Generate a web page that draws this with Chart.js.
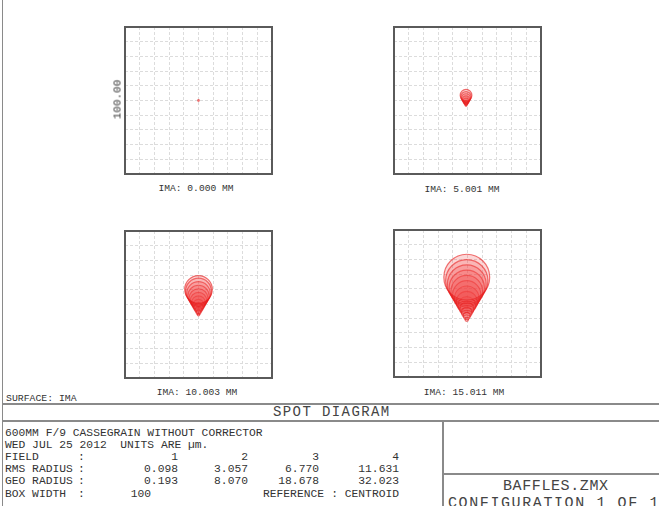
<!DOCTYPE html>
<html>
<head>
<meta charset="utf-8">
<script src="https://cdn.jsdelivr.net/npm/chart.js@4/dist/chart.umd.min.js"></script>
<style>
  body { margin: 0; background: #fff; }
  #page { position: relative; width: 659px; height: 506px; overflow: hidden; background: #fff;
          font-family: "Liberation Mono", "DejaVu Sans Mono", monospace; color: #333; }
  .box { position: absolute; width: 151px; height: 151px; }
  .t { position: absolute; white-space: pre; line-height: 13px; }
  .hl { position: absolute; height: 2px; background: #8a8a8a; }
  .vl { position: absolute; width: 2px; background: #8a8a8a; }
</style>
</head>
<body>
<div id="page">
  <div class="vl" style="left:2px;top:0;height:506px;width:1px;"></div>

  <div class="box" style="left:123px;top:25px;"><canvas id="c1"></canvas></div>
  <div class="box" style="left:392px;top:25px;"><canvas id="c2"></canvas></div>
  <div class="box" style="left:123px;top:229px;"><canvas id="c3"></canvas></div>
  <div class="box" style="left:392px;top:228px;"><canvas id="c4"></canvas></div>

  <div class="t" id="ylab" style="left:96px;top:93px;font-size:11px;transform:rotate(-90deg);width:44px;text-align:center;"></div>
  <div class="t lab" id="l1" style="left:116px;top:182px;width:160px;text-align:center;font-size:9.6px;"></div>
  <div class="t lab" id="l2" style="left:382px;top:183px;width:160px;text-align:center;font-size:9.6px;"></div>
  <div class="t lab" id="l3" style="left:117px;top:386px;width:160px;text-align:center;font-size:9.6px;"></div>
  <div class="t lab" id="l4" style="left:384px;top:386px;width:160px;text-align:center;font-size:9.6px;"></div>

  <div class="t" id="surf" style="left:6px;top:392px;font-size:9.8px;"></div>
  <div class="hl" style="left:3px;top:403px;width:656px;"></div>
  <div class="t" id="title" style="left:273px;top:406px;font-size:14px;letter-spacing:1.4px;color:#444;"></div>
  <div class="hl" style="left:3px;top:420px;width:656px;"></div>
  <div class="vl" style="left:442px;top:421px;height:85px;"></div>
  <div class="hl" style="left:443px;top:473px;width:216px;"></div>
  <div class="t" id="file" style="left:503px;top:480px;font-size:15px;letter-spacing:0.6px;color:#444;"></div>
  <div class="t" id="conf" style="left:448px;top:497px;font-size:15px;letter-spacing:1.6px;color:#444;"></div>

  <div id="table"></div>
</div>

<script>
// field labels under each box
const fieldLabels = ['IMA: 0.000 MM', 'IMA: 5.001 MM', 'IMA: 10.003 MM', 'IMA: 15.011 MM'];
const boxWidth = 100; // microns
const gridStep = 10;

// spot pattern per field, drawn as the ray rings: centre x, y and radius r in microns
const spot1 = [{x: 0, y: 0, r: 0.35}];
const spot2 = [
  {x: -1, y: -3.4, r: 0.5}, {x: -1, y: -2.4, r: 1.0}, {x: -1, y: -1.4, r: 1.5}, {x: -1, y: -0.4, r: 2.0},
  {x: -1, y: 0.6, r: 2.5}, {x: -1, y: 1.6, r: 3.0}, {x: -1, y: 2.6, r: 3.5}, {x: -1, y: 3.6, r: 4.0}
];
const spot3 = [
  {x: 0, y: -6.9, r: 0.8}, {x: 0, y: -5.3, r: 1.6}, {x: 0, y: -3.7, r: 2.4}, {x: 0, y: -2.1, r: 3.2},
  {x: 0, y: -0.5, r: 4.0}, {x: 0, y: 1.1, r: 4.8}, {x: 0, y: 2.7, r: 5.6}, {x: 0, y: 4.3, r: 6.4},
  {x: 0, y: 5.9, r: 7.2}, {x: 0, y: 7.5, r: 8.0}, {x: 0, y: 9.1, r: 8.8}, {x: 0, y: 10.3, r: 9.4}
];
const spot4 = [
  {x: -0.5, y: -10.9, r: 1.2}, {x: -0.5, y: -8.5, r: 2.4}, {x: -0.5, y: -6.1, r: 3.6}, {x: -0.5, y: -3.7, r: 4.8},
  {x: -0.5, y: -1.3, r: 6.0}, {x: -0.5, y: 1.1, r: 7.2}, {x: -0.5, y: 3.5, r: 8.4}, {x: -0.5, y: 5.9, r: 9.6},
  {x: -0.5, y: 8.3, r: 10.8}, {x: -0.5, y: 10.7, r: 12.0}, {x: -0.5, y: 13.1, r: 13.2}, {x: -0.5, y: 15.5, r: 14.4},
  {x: -0.5, y: 17.9, r: 15.6}
];

// text block
const titleLines = ['600MM F/9 CASSEGRAIN WITHOUT CORRECTOR', 'WED JUL 25 2012  UNITS ARE \u00b5m.'];
const fields = ['1', '2', '3', '4'];
const rmsRadius = ['0.098', '3.057', '6.770', '11.631'];
const geoRadius = ['0.193', '8.070', '18.678', '32.023'];
const boxWidthText = '100';
const referenceText = 'CENTROID';

document.getElementById('ylab').textContent = boxWidth.toFixed(2);
fieldLabels.forEach((t, i) => document.getElementById('l' + (i + 1)).textContent = t);
document.getElementById('surf').textContent = 'SURFACE: IMA';
document.getElementById('title').textContent = 'SPOT DIAGRAM';
document.getElementById('file').textContent = 'BAFFLES.ZMX';
document.getElementById('conf').textContent = 'CONFIGURATION 1 OF 1';

function addText(txt, x, y, align) {
  const d = document.createElement('div');
  d.className = 't';
  d.style.fontSize = '11.3px';
  d.style.top = (y - 6.5) + 'px';
  if (align === 'right') {
    d.style.left = (x - 100) + 'px';
    d.style.width = '100px';
    d.style.textAlign = 'right';
  } else {
    d.style.left = x + 'px';
  }
  d.textContent = txt;
  document.getElementById('table').appendChild(d);
}

const rowY = [433, 445, 457, 469.5, 481.5, 494];
const colRight = [178, 248, 319, 399];
addText(titleLines[0], 5, rowY[0]);
addText(titleLines[1], 5, rowY[1]);
[['FIELD', fields], ['RMS RADIUS', rmsRadius], ['GEO RADIUS', geoRadius]].forEach((row, r) => {
  addText(row[0], 5, rowY[r + 2]);
  addText(':', 78, rowY[r + 2]);
  row[1].forEach((v, c) => addText(v, colRight[c], rowY[r + 2], 'right'));
});
addText('BOX WIDTH', 5, rowY[5]);
addText(':', 78, rowY[5]);
addText(boxWidthText, 151, rowY[5], 'right');
addText('REFERENCE', 263, rowY[5]);
addText(': ' + referenceText, 399, rowY[5], 'right');

// frame round the plot area
const frame = {
  id: 'frame',
  afterDraw(chart) {
    const a = chart.chartArea, ctx = chart.ctx;
    ctx.save();
    ctx.strokeStyle = '#5a5a5a';
    ctx.lineWidth = 2;
    ctx.strokeRect(a.left, a.top, a.right - a.left, a.bottom - a.top);
    ctx.restore();
  }
};

function micronsToPx(chart, r) {
  const s = chart.scales.x;
  return Math.max(0.8, Math.abs(s.getPixelForValue(r) - s.getPixelForValue(0)));
}

function spotChart(id, rings) {
  const axis = {
    type: 'linear',
    min: -boxWidth / 2,
    max: boxWidth / 2,
    ticks: { display: false, stepSize: gridStep },
    grid: { color: '#dcdcdc', drawTicks: false, lineWidth: 1 },
    border: { display: false, dash: [3, 2] }
  };
  return new Chart(document.getElementById(id), {
    type: 'scatter',
    data: {
      datasets: [{
        data: rings,
        pointStyle: 'circle',
        pointRadius: ctx => micronsToPx(ctx.chart, ctx.raw.r),
        pointBorderWidth: 1.2,
        pointBorderColor: 'rgba(230,25,25,0.6)',
        pointBackgroundColor: 'rgba(240,70,70,0.22)'
      }]
    },
    options: {
      responsive: true,
      maintainAspectRatio: false,
      animation: false,
      events: [],
      layout: { padding: 2 },
      plugins: { legend: { display: false }, tooltip: { enabled: false } },
      scales: { x: axis, y: Object.assign({}, axis) }
    },
    plugins: [frame]
  });
}

spotChart('c1', spot1);
spotChart('c2', spot2);
spotChart('c3', spot3);
spotChart('c4', spot4);
</script>
</body>
</html>
